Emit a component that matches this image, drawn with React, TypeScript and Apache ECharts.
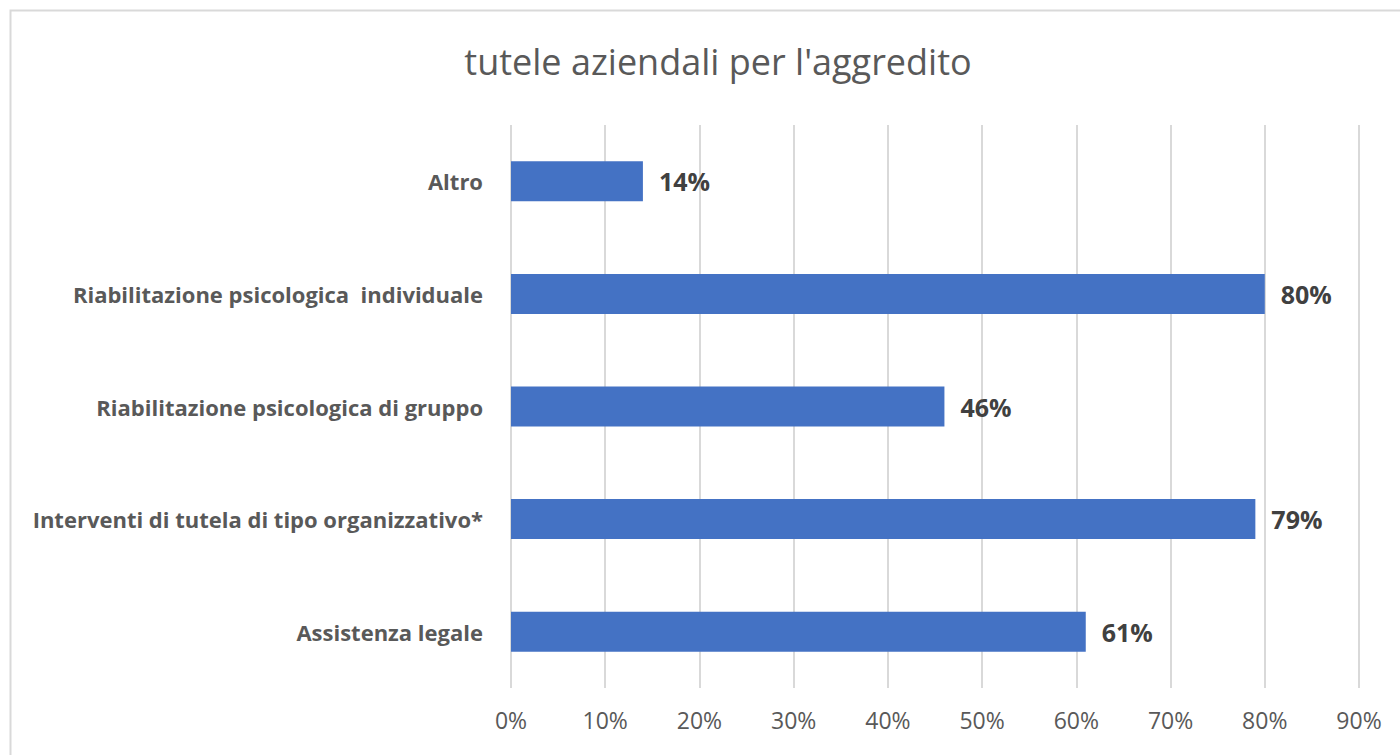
import React, { useEffect, useRef } from "react";
import * as echarts from "echarts";

const titleText = "tutele aziendali per l'aggredito";
const categories = [
  "Assistenza legale",
  "Interventi di tutela di tipo organizzativo*",
  "Riabilitazione psicologica di gruppo",
  "Riabilitazione psicologica  individuale",
  "Altro",
];
const values = [61, 79, 46, 80, 14];
const xMin = 0;
const xMax = 90;
const xInterval = 10;

export default function App() {
  const ref = useRef<HTMLDivElement>(null);
  useEffect(() => {
    if (!ref.current) return;
    const chart = echarts.init(ref.current, undefined, { renderer: "svg" });
    chart.setOption({
      animation: false,
      backgroundColor: "#ffffff",
      title: {
        text: titleText,
        left: 713,
        textAlign: "center",
        top: 38,
        textStyle: {
          fontFamily: "Open Sans",
          fontWeight: "normal",
          fontSize: 36,
          color: "#595959",
        },
      },
      graphic: [
        {
          type: "rect",
          shape: { x: 10.5, y: 10.5, width: 1420, height: 780 },
          style: { fill: "none", stroke: "#d9d9d9", lineWidth: 2 },
          silent: true,
        },
      ],
      grid: { left: 511, top: 125, width: 848, height: 563, containLabel: false },
      xAxis: {
        type: "value",
        min: xMin,
        max: xMax,
        interval: xInterval,
        axisLine: { show: false },
        axisTick: { show: false },
        splitLine: { show: true, lineStyle: { color: "#d9d9d9", width: 2 } },
        axisLabel: {
          formatter: "{value}%",
          color: "#595959",
          fontFamily: "Open Sans",
          fontSize: 23,
          margin: 20,
        },
      },
      yAxis: {
        type: "category",
        data: categories,
        axisLine: { show: false },
        axisTick: { show: false },
        axisLabel: {
          color: "#595959",
          fontFamily: "Open Sans",
          fontWeight: "bold",
          fontSize: 22,
          margin: 28,
        },
      },
      series: [
        {
          type: "bar",
          data: values,
          barWidth: 40,
          itemStyle: { color: "#4472C4" },
          label: {
            show: true,
            position: "right",
            distance: 16,
            formatter: "{c}%",
            color: "#404040",
            fontFamily: "Open Sans",
            fontWeight: "bold",
            fontSize: 25,
          },
        },
      ],
    });
    return () => chart.dispose();
  }, []);
  return (
    <div
      ref={ref}
      style={{ position: "fixed", left: 0, top: 0, width: 1400, height: 755 }}
    />
  );
}
